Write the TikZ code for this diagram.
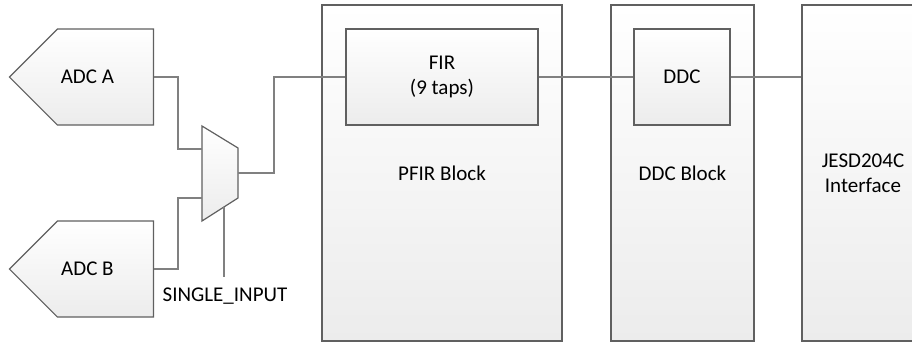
\documentclass[tikz,border=0pt]{standalone}
\usepackage{fontspec}
\setmainfont{Carlito}
\usetikzlibrary{shapes.symbols}
\definecolor{ln}{RGB}{96,96,96}
\definecolor{wc}{RGB}{128,128,128}
\definecolor{bc}{RGB}{236,236,236}
\tikzset{blk/.style={draw=ln,line width=.6pt,top color=white,bottom color=bc,align=center,inner sep=0pt},
 adc/.style={blk,signal,signal to=west,signal pointer angle=90,minimum width=72pt,minimum height=48pt,anchor=east},
 adctxt/.style={xshift=-9pt},
 mux/.style={draw=ln,line width=.6pt,top color=white,bottom color=bc},
 wire/.style={draw=wc,line width=.6pt},
 every node/.style={font=\fontsize{10.5}{12.5}\selectfont}}
\begin{document}
\begin{tikzpicture}[x=.5pt,y=-.5pt]
\clip (0,0) rectangle (912,343);
% blocks
\node[blk,minimum width=120pt,minimum height=168pt] (pfir) at (442,173) {PFIR Block};
\node[blk,minimum width=71.5pt,minimum height=168pt] (ddcb) at (682.5,173) {DDC Block};
\node[blk,minimum width=61pt,minimum height=168pt] (jesd) at (863,173) {JESD204C\\Interface};
\node[blk,minimum width=96pt,minimum height=48pt] (fir) at (442,77) {FIR\\(9 taps)};
\node[blk,minimum width=48pt,minimum height=48pt] (ddc) at (682,77) {DDC};
% adcs
\node[adc,label={[adctxt]center:ADC A}] (adca) at (154,77) {};
\node[adc,label={[adctxt]center:ADC B}] (adcb) at (154,269) {};
% mux
\draw[mux] (202,126) -- (238,148) -- (238,198) -- (202,221) -- cycle;
\coordinate (mxa) at (202,149);\coordinate (mxb) at (202,198);
\coordinate (mxo) at (238,173);\coordinate (mxs) at (224,207);
\coordinate (sele) at (224,277);
\node (sel) at (225,296) {SINGLE\_INPUT};
% wires
\draw[wire] (adca.east) -- ++(24,0) |- (mxa);
\draw[wire] (adcb.east) -- ++(24,0) |- (mxb);
\draw[wire] (mxo) -- ++(36,0) |- (fir.west);
\draw[wire] (mxs) -- (sele);
\draw[wire] (fir.east) -- (ddc.west);
\draw[wire] (ddc.east) -- (ddc.east -| jesd.west);
\end{tikzpicture}
\end{document}
